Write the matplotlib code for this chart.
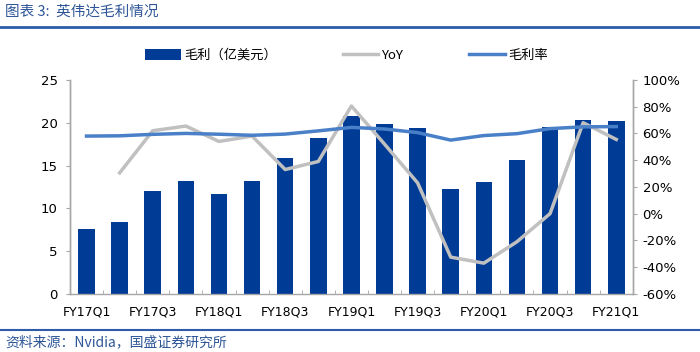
import matplotlib
matplotlib.use("Agg")
import matplotlib.pyplot as plt
from matplotlib.lines import Line2D
from matplotlib.ticker import FuncFormatter, FixedLocator

plt.rcParams['font.family'] = ['DejaVu Sans', 'Noto Sans CJK SC']

quarters = ["FY17Q1", "FY17Q2", "FY17Q3", "FY17Q4", "FY18Q1", "FY18Q2", "FY18Q3", "FY18Q4",
            "FY19Q1", "FY19Q2", "FY19Q3", "FY19Q4", "FY20Q1", "FY20Q2", "FY20Q3", "FY20Q4", "FY21Q1"]
gross_profit = [7.6, 8.4, 12.0, 13.2, 11.65, 13.2, 15.9, 18.2,
                20.8, 19.9, 19.4, 12.2, 13.1, 15.6, 19.5, 20.3, 20.2]
yoy = [None, 30.5, 62, 65.5, 54, 58, 33, 39,
       80.5, 52, 23, -32.5, -37, -21, 0, 68, 55.5]
gross_margin = [58, 58.2, 59.3, 60.0, 59.4, 58.6, 59.5, 61.9,
                64.5, 63.3, 60.6, 55.0, 58.4, 59.8, 63.6, 64.9, 65.1]

BAR = "#003C96"
GRAY = "#C0C0C0"
LBLUE = "#4A80C8"
SPINE = "#A6A6A6"
TBLUE = "#2D5597"

fig = plt.figure(figsize=(7.0, 3.52), dpi=100)
ax = fig.add_axes([0.1, 0.165, 0.804, 0.608])
ax2 = ax.twinx()

x = list(range(len(quarters)))
bars = ax.bar(x, gross_profit, width=0.5, color=BAR, zorder=2, label="毛利（亿美元）")
yx = [i for i, v in zip(x, yoy) if v is not None]
yv = [v for v in yoy if v is not None]
l1, = ax2.plot(yx, yv, color=GRAY, lw=2.5, label="YoY", zorder=3)
l2, = ax2.plot(x, gross_margin, color=LBLUE, lw=2.5, label="毛利率", zorder=4)

ax.set_xlim(-0.5, len(quarters) - 0.5)
ax.set_ylim(0, 25)
ax.set_yticks([0, 5, 10, 15, 20, 25])
ax2.set_ylim(-60, 100)
ax2.set_yticks(list(range(-60, 101, 20)))
ax2.yaxis.set_major_formatter(FuncFormatter(lambda v, p: f"{int(v)}%"))

ax.set_xticks(x[::2])
ax.set_xticklabels(quarters[::2])
ax.xaxis.set_minor_locator(FixedLocator([i + 0.5 for i in x[:-1]]))
ax.tick_params(axis='x', which='major', length=0, pad=8, labelsize=9)
ax.tick_params(axis='x', which='minor', length=3, direction='in', color=SPINE)
ax.tick_params(axis='y', length=3, direction='out', color=SPINE, labelsize=9.5, pad=6)
ax2.tick_params(axis='y', length=3, direction='out', color=SPINE, labelsize=9.5, pad=4)

for a in (ax, ax2):
    a.spines['top'].set_visible(False)
    for s in ('left', 'right', 'bottom'):
        a.spines[s].set_color(SPINE)
        a.spines[s].set_linewidth(1.0)
ax2.spines['bottom'].set_visible(False)

leg = fig.legend(handles=[bars, l1, l2], loc='center', bbox_to_anchor=(0.495, 0.843),
                 ncol=3, frameon=False, handlelength=2.7,
                 handleheight=0.9, columnspacing=5.0, handletextpad=0.25,
                 prop={'family': ['Noto Sans CJK SC'], 'size': 9.5})

fig.text(5 / 700, 1 - 12 / 352, "图表 3:  英伟达毛利情况", fontsize=10.5, color=TBLUE,
         style='italic', va='center', ha='left', family=['Noto Sans CJK SC'])
fig.lines.append(Line2D([0, 1], [1 - 27 / 352, 1 - 27 / 352], transform=fig.transFigure,
                        color="#2E5CA8", lw=2))
fig.lines.append(Line2D([0, 1], [1 - 330 / 352, 1 - 330 / 352], transform=fig.transFigure,
                        color="#2E5CA8", lw=1.5))
fig.text(5 / 700, 1 - 342 / 352, "资料来源：Nvidia，国盛证券研究所", fontsize=10, color=TBLUE,
         style='italic', va='center', ha='left', family=['Noto Sans CJK SC'])

fig.savefig("out.png", dpi=100)
